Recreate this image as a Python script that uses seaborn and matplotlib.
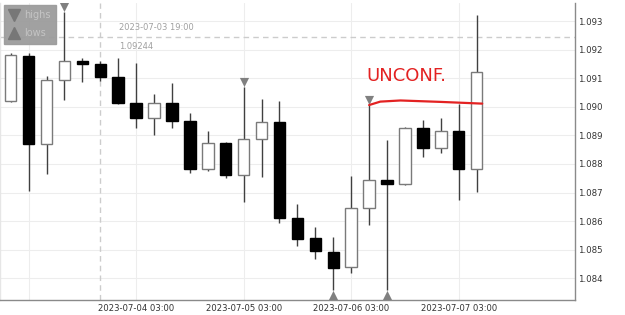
import numpy as np
import pandas as pd
import matplotlib
matplotlib.use("Agg")
import matplotlib.pyplot as plt
import matplotlib.dates as mdates
from matplotlib.transforms import ScaledTranslation
from matplotlib.lines import Line2D
import seaborn as sns

# ---------------- data ----------------
times = [
    "2023-07-02 23:00", "2023-07-03 03:00", "2023-07-03 07:00", "2023-07-03 11:00",
    "2023-07-03 15:00", "2023-07-03 19:00", "2023-07-03 23:00", "2023-07-04 03:00",
    "2023-07-04 07:00", "2023-07-04 11:00", "2023-07-04 15:00", "2023-07-04 19:00",
    "2023-07-04 23:00", "2023-07-05 03:00", "2023-07-05 07:00", "2023-07-05 11:00",
    "2023-07-05 15:00", "2023-07-05 19:00", "2023-07-05 23:00", "2023-07-06 03:00",
    "2023-07-06 07:00", "2023-07-06 11:00", "2023-07-06 15:00", "2023-07-06 19:00",
    "2023-07-06 23:00", "2023-07-07 03:00", "2023-07-07 07:00",
]
opens = [1.09021, 1.09179, 1.08869, 1.09093, 1.09161, 1.09150, 1.09103, 1.09012,
         1.08960, 1.09012, 1.08950, 1.08781, 1.08872, 1.08760, 1.08886, 1.08946,
         1.08612, 1.08540, 1.08493, 1.08439, 1.08645, 1.08745, 1.08730, 1.08926,
         1.08855, 1.08915, 1.08782]
highs = [1.09189, 1.09189, 1.09108, 1.09333, 1.09170, 1.09161, 1.09172, 1.09154,
         1.09044, 1.09082, 1.08977, 1.08915, 1.08876, 1.09070, 1.09026, 1.09020,
         1.08660, 1.08581, 1.08543, 1.08758, 1.09006, 1.08884, 1.08929, 1.08954,
         1.08960, 1.09008, 1.09321]
lows = [1.09018, 1.08706, 1.08765, 1.09024, 1.09088, 1.09091, 1.09009, 1.08925,
        1.08901, 1.08925, 1.08769, 1.08776, 1.08752, 1.08666, 1.08755, 1.08592,
        1.08513, 1.08466, 1.08359, 1.08420, 1.08586, 1.08359, 1.08726, 1.08825,
        1.08837, 1.08674, 1.08703]
closes = [1.09181, 1.08869, 1.09094, 1.09161, 1.09150, 1.09103, 1.09012, 1.08960,
          1.09012, 1.08950, 1.08782, 1.08872, 1.08760, 1.08886, 1.08947, 1.08612,
          1.08539, 1.08494, 1.08437, 1.08645, 1.08745, 1.08730, 1.08927, 1.08856,
          1.08915, 1.08782, 1.09121]

high_mark_times = ["2023-07-03 11:00", "2023-07-05 03:00", "2023-07-06 07:00"]
low_mark_times = ["2023-07-05 23:00", "2023-07-06 11:00"]

x_tick_times = ["2023-07-03 03:00", "2023-07-04 03:00", "2023-07-05 03:00",
                "2023-07-06 03:00", "2023-07-07 03:00"]
x_tick_labels = ["", "2023-07-04 03:00", "2023-07-05 03:00",
                 "2023-07-06 03:00", "2023-07-07 03:00"]
y_ticks = [1.084, 1.085, 1.086, 1.087, 1.088, 1.089, 1.090, 1.091, 1.092, 1.093]

cross_time = "2023-07-03 19:00"
cross_price = 1.09244

annot_text = "UNCONF."
annot_line_times = ["2023-07-06 07:00", "2023-07-06 09:30", "2023-07-06 14:00",
                    "2023-07-06 23:00", "2023-07-07 08:15"]
annot_line_prices = [1.09006, 1.09018, 1.09022, 1.09017, 1.09011]

# ---------------- style ----------------
sns.set_theme(style="white")
plt.rcParams["font.family"] = ["DejaVu Sans"]

df = pd.DataFrame({
    "time": pd.to_datetime(times), "open": opens, "high": highs,
    "low": lows, "close": closes,
})
df["x"] = mdates.date2num(df["time"])
df["up"] = df["close"] >= df["open"]

fig = plt.figure(figsize=(6.25, 3.15), dpi=100)
fig.patch.set_facecolor("white")
ax = fig.add_axes([0.0, 15 / 315, 575 / 625, 297 / 315])

t0 = df["x"].iloc[0]
step = 4 / 24
ax.set_xlim(t0 - 0.597 * step, t0 + 31.49 * step)
ax.set_ylim(1.08324, 1.09363)

# grid
ax.set_axisbelow(True)
ax.set_xticks(mdates.date2num(pd.to_datetime(x_tick_times)))
ax.set_xticklabels(x_tick_labels)
ax.set_yticks(y_ticks)
ax.set_yticklabels([f"{v:.3f}" for v in y_ticks])
ax.grid(True, color="#ededed", lw=0.8)

# crosshair
cx = mdates.date2num(pd.Timestamp(cross_time))
ax.axvline(cx, color="#cccccc", lw=1.0, ls=(0, (4, 3)), zorder=1)
ax.axhline(cross_price, color="#cccccc", lw=1.0, ls=(0, (4, 3)), zorder=1)
ax.annotate(cross_time, xy=(cx, 0.919), xycoords=("data", "axes fraction"),
            xytext=(13.5, 0), textcoords="offset points", va="center", ha="left",
            fontsize=6.0, color="#a0a0a0")
ax.annotate(f"{cross_price:.5f}", xy=(cx, 0.855), xycoords=("data", "axes fraction"),
            xytext=(13.5, 0), textcoords="offset points", va="center", ha="left",
            fontsize=6.0, color="#a0a0a0")

# candles
width = 0.107
ax.vlines(df["x"], df["low"], df["high"], color="#404040", lw=1.0, zorder=2)
bottoms = np.minimum(df["open"], df["close"])
heights = np.abs(df["close"] - df["open"])
ax.bar(df["x"], heights, bottom=bottoms, width=width,
       color=np.where(df["up"], "white", "black"),
       edgecolor=np.where(df["up"], "#7a7a7a", "black"), linewidth=1.0, zorder=3)

# swing markers
hm = df[df["time"].isin(pd.to_datetime(high_mark_times))]
lm = df[df["time"].isin(pd.to_datetime(low_mark_times))]
ms = 6.6
up_off = ax.transData + ScaledTranslation(0, ms / 2 / 72, fig.dpi_scale_trans)
dn_off = ax.transData + ScaledTranslation(0, -ms / 2 / 72, fig.dpi_scale_trans)
sns.scatterplot(x=hm["x"], y=hm["high"], marker="v", s=ms ** 2, color="#808080",
                linewidth=0, ax=ax, transform=up_off, zorder=4, legend=False)
sns.scatterplot(x=lm["x"], y=lm["low"], marker="^", s=ms ** 2, color="#808080",
                linewidth=0, ax=ax, transform=dn_off, zorder=4, legend=False,
                clip_on=False)
ax.set_xlabel("")
ax.set_ylabel("")

# red hand annotation
ax.plot(mdates.date2num(pd.to_datetime(annot_line_times)), annot_line_prices,
        color="#e32222", lw=1.6, solid_capstyle="round", zorder=5)
ax.text(t0 + 22.06 * step, 1.09108, annot_text, color="#e32222", fontsize=13,
        ha="center", va="center", zorder=5)

# legend
handles = [Line2D([], [], marker="v", ls="", color="#777777", markersize=8),
           Line2D([], [], marker="^", ls="", color="#777777", markersize=8)]
leg = ax.legend(handles, ["highs", "lows"], loc="upper left",
                bbox_to_anchor=(0.007, 0.993), borderaxespad=0, fontsize=7,
                frameon=True, fancybox=False, facecolor="#9c9c9c",
                edgecolor="#9c9c9c", framealpha=0.95, handlelength=0.9,
                handletextpad=0.6, labelspacing=0.8, borderpad=0.55)
for t in leg.get_texts():
    t.set_color("#c4c4c4")
leg.set_zorder(10)

# axes / spines
ax.yaxis.tick_right()
ax.tick_params(axis="y", length=0, pad=2.5, labelsize=6.2, labelcolor="#333333")
ax.tick_params(axis="x", length=0, pad=3, labelsize=6.1, labelcolor="#333333")
ax.spines["top"].set_visible(False)
ax.spines["left"].set_color("#e6e6e6")
ax.spines["right"].set_color("#8a8a8a")
ax.spines["bottom"].set_color("#8a8a8a")
for s in ["left", "right", "bottom"]:
    ax.spines[s].set_linewidth(1.0)

fig.savefig("out.png", dpi=100, facecolor="white")
